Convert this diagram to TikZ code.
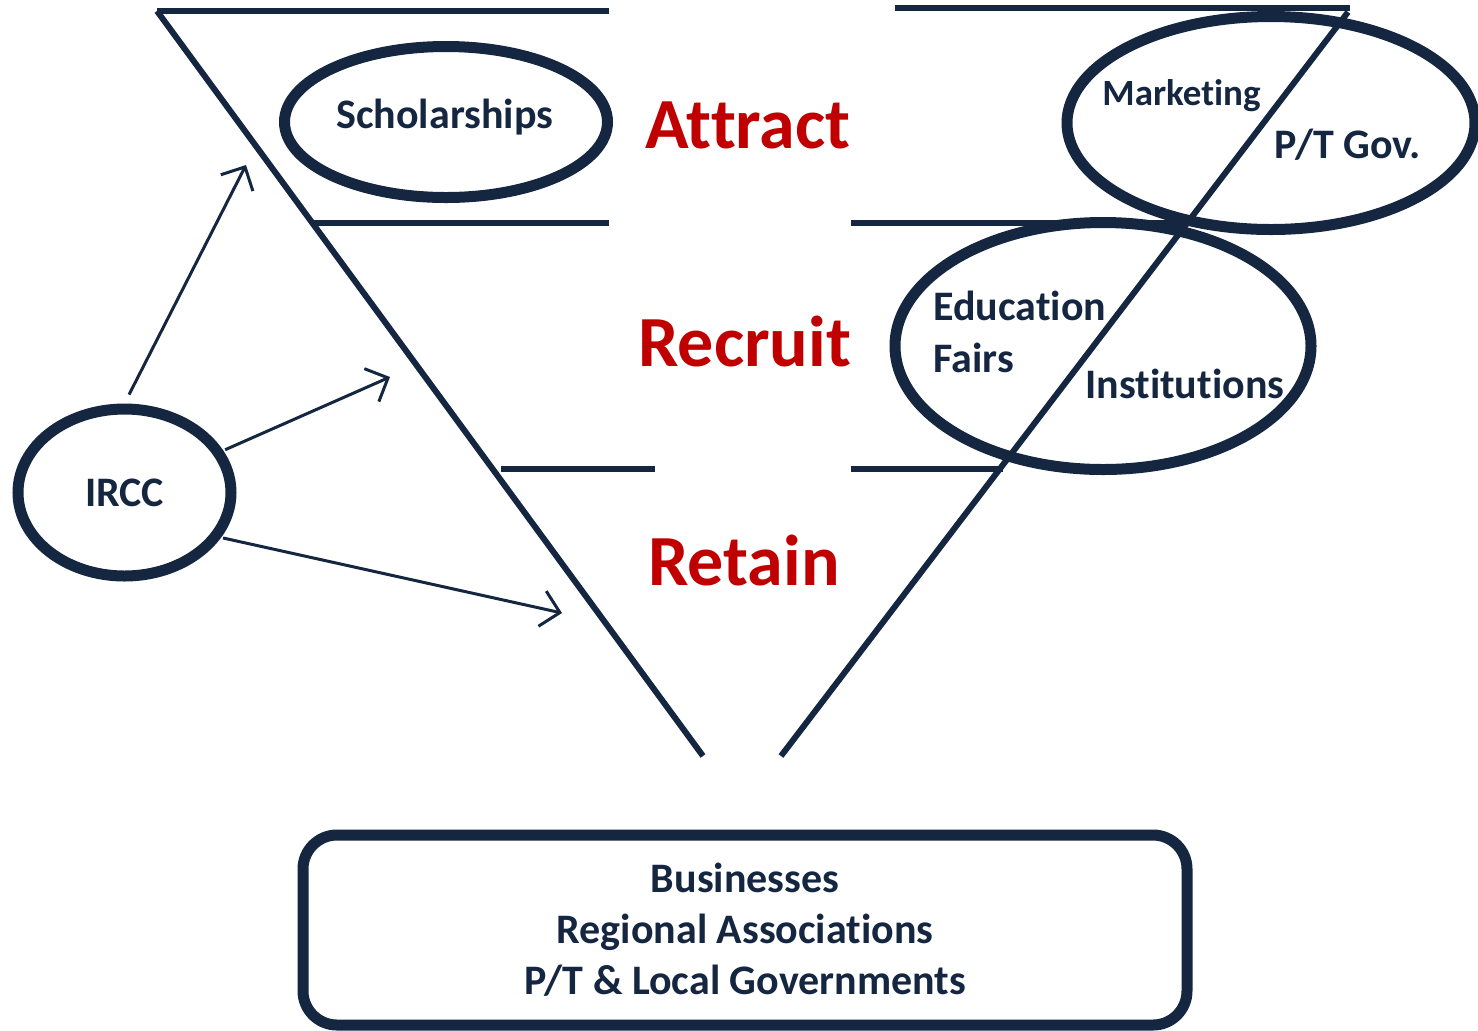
\documentclass[tikz,border=0pt]{standalone}
\usepackage{fontspec}
\setmainfont{Carlito}[Ligatures=NoCommon]
\usetikzlibrary{arrows.meta,shapes.geometric}
\definecolor{navy}{RGB}{20,38,64}
\definecolor{stagered}{RGB}{192,0,0}

\begin{document}
\begin{tikzpicture}[x=0.5pt,y=-0.5pt,
  bar/.style={draw=navy,line width=3pt},
  blob/.style={draw=navy,line width=5.5pt,ellipse,inner sep=0pt},
  lbl/.style={font=\fontsize{21}{25.5}\selectfont\bfseries,text=navy,inner sep=0pt},
  stage/.style={font=\fontsize{36}{40}\selectfont\bfseries,text=stagered,inner sep=0pt,anchor=base west},
  conn/.style={draw=navy,line width=1.5pt,-{Straight Barb[length=9pt,width=18pt]}}]
\useasboundingbox (0,0) rectangle (1478,1030);
\draw[bar] (157,11) -- (609,11);
\draw[bar] (157,11) -- (703,756);
\draw[bar] (313,223) -- (609,223);
\draw[bar] (501,469) -- (655,469);
\draw[bar] (895,8) -- (1350,8);
\draw[bar] (1348,12) -- (781,756);
\draw[bar] (851,223) -- (1185,223);
\draw[bar] (851,469) -- (1003,469);
\node[blob,minimum width=161.5pt,minimum height=75.5pt] (schol) at (446,122) {};
\node[blob,minimum width=204pt,minimum height=106.5pt] (mkt) at (1271,123) {};
\node[blob,minimum width=208pt,minimum height=123.5pt] (edu) at (1103,346) {};
\node[blob,minimum width=106.5pt,minimum height=83.5pt,lbl] (ircc) at (124.5,492.5) {IRCC};
\node[lbl,anchor=base west] (scholars) at (336,128) {Scholarships};
\node[lbl,font=\fontsize{18.5}{22}\selectfont\bfseries,anchor=base west] (market) at (1102,105) {Marketing};
\node[lbl,anchor=base west] (ptgov) at (1274,158) {P/T Gov.};
\node[lbl,anchor=base west] (educ) at (933,320) {Education};
\node[lbl,anchor=base west] (fairs) at (933,372) {Fairs};
\node[lbl,anchor=base west] (inst) at (1085,398) {Institutions};
\node[stage] (attract) at (645,148) {Attract};
\node[stage] (recruit) at (638,366) {Recruit};
\node[stage] (retain) at (648,585) {Retain};
\node[draw=navy,line width=5.5pt,rounded corners=17pt,minimum width=442pt,minimum height=95pt,
  lbl,align=center] (partners) at (745,930) {Businesses\\Regional Associations\\P/T \& Local Governments};
\coordinate (tip1) at (246,165);
\coordinate (tip2) at (390,377);
\coordinate (tip3) at (562,613);
\draw[conn,shorten <=5pt] (ircc.north) -- (tip1);
\draw[conn,shorten <=1pt] (ircc.23) -- (tip2);
\draw[conn,shorten <=1pt] (ircc.-25) -- (tip3);
\end{tikzpicture}
\end{document}
